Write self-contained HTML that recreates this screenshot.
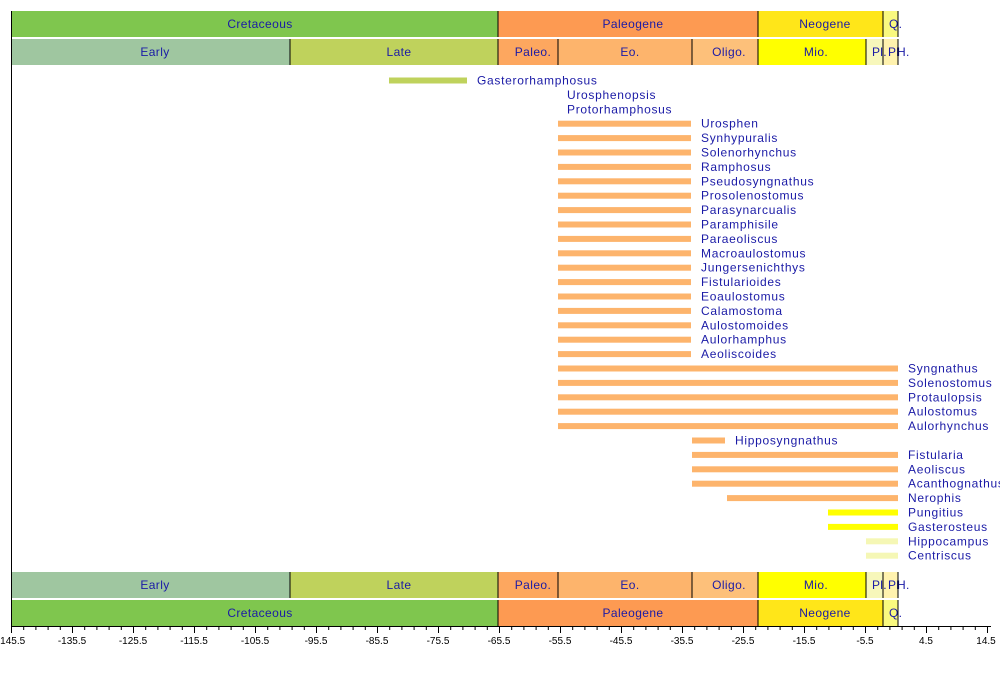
<!DOCTYPE html>
<html><head><meta charset="utf-8"><style>
html,body{margin:0;padding:0;background:#fff;width:1000px;height:675px;overflow:hidden}
svg text{font-family:"Liberation Sans",sans-serif}
.b{font-size:12px;fill:#1a1aa6;text-anchor:middle;letter-spacing:0.4px}
.s{font-size:12px;fill:#1a1aa6;letter-spacing:0.3px}
.l{font-size:12px;fill:#1a1aa6;letter-spacing:0.7px}
.t{font-size:10px;fill:#000;text-anchor:middle}
</style></head><body>
<svg width="1000" height="675" xmlns="http://www.w3.org/2000/svg">
<g>
<rect x="11" y="11" width="487" height="26" fill="#7fc64e"/>
<rect x="498" y="11" width="260" height="26" fill="#fd9a52"/>
<rect x="758" y="11" width="125" height="26" fill="#ffe619"/>
<rect x="883" y="11" width="15" height="26" fill="#f9f97f"/>
<text class="b" x="260" y="28">Cretaceous</text>
<text class="b" x="633" y="28">Paleogene</text>
<text class="b" x="825" y="28">Neogene</text>
<text class="s" x="889" y="28">Q.</text>
<rect x="11" y="39" width="279" height="26" fill="#9fc6a0"/>
<rect x="290" y="39" width="208" height="26" fill="#bfd25c"/>
<rect x="498" y="39" width="60" height="26" fill="#fda75f"/>
<rect x="558" y="39" width="134" height="26" fill="#fdb46c"/>
<rect x="692" y="39" width="66" height="26" fill="#fdc07a"/>
<rect x="758" y="39" width="108" height="26" fill="#ffff00"/>
<rect x="866" y="39" width="17" height="26" fill="#f7f7bb"/>
<rect x="883" y="39" width="15" height="26" fill="#fff2ae"/>
<text class="b" x="155" y="56">Early</text>
<text class="b" x="399" y="56">Late</text>
<text class="b" x="533" y="56">Paleo.</text>
<text class="b" x="630" y="56">Eo.</text>
<text class="b" x="729" y="56">Oligo.</text>
<text class="b" x="816" y="56">Mio.</text>
<text class="s" x="872" y="56">Pl.</text>
<text class="s" x="888" y="56">Pl</text>
<text class="s" x="897" y="56">H.</text>
<g stroke="#000" stroke-width="1">
<line x1="498" y1="11" x2="498" y2="37"/><line x1="758" y1="11" x2="758" y2="37"/><line x1="883" y1="11" x2="883" y2="37"/><line x1="898" y1="11" x2="898" y2="37"/>
<line x1="290" y1="39" x2="290" y2="65"/><line x1="498" y1="39" x2="498" y2="65"/><line x1="558" y1="39" x2="558" y2="65"/><line x1="692" y1="39" x2="692" y2="65"/><line x1="758" y1="39" x2="758" y2="65"/><line x1="866" y1="39" x2="866" y2="65"/><line x1="883" y1="39" x2="883" y2="65"/><line x1="898" y1="39" x2="898" y2="65"/>
</g>
</g>
<g>
<rect x="11" y="572" width="279" height="26" fill="#9fc6a0"/>
<rect x="290" y="572" width="208" height="26" fill="#bfd25c"/>
<rect x="498" y="572" width="60" height="26" fill="#fda75f"/>
<rect x="558" y="572" width="134" height="26" fill="#fdb46c"/>
<rect x="692" y="572" width="66" height="26" fill="#fdc07a"/>
<rect x="758" y="572" width="108" height="26" fill="#ffff00"/>
<rect x="866" y="572" width="17" height="26" fill="#f7f7bb"/>
<rect x="883" y="572" width="15" height="26" fill="#fff2ae"/>
<text class="b" x="155" y="589">Early</text>
<text class="b" x="399" y="589">Late</text>
<text class="b" x="533" y="589">Paleo.</text>
<text class="b" x="630" y="589">Eo.</text>
<text class="b" x="729" y="589">Oligo.</text>
<text class="b" x="816" y="589">Mio.</text>
<text class="s" x="872" y="589">Pl.</text>
<text class="s" x="888" y="589">Pl</text>
<text class="s" x="897" y="589">H.</text>
<rect x="11" y="600" width="487" height="26" fill="#7fc64e"/>
<rect x="498" y="600" width="260" height="26" fill="#fd9a52"/>
<rect x="758" y="600" width="125" height="26" fill="#ffe619"/>
<rect x="883" y="600" width="15" height="26" fill="#f9f97f"/>
<text class="b" x="260" y="617">Cretaceous</text>
<text class="b" x="633" y="617">Paleogene</text>
<text class="b" x="825" y="617">Neogene</text>
<text class="s" x="889" y="617">Q.</text>
<g stroke="#000" stroke-width="1">
<line x1="290" y1="572" x2="290" y2="598"/><line x1="498" y1="572" x2="498" y2="598"/><line x1="558" y1="572" x2="558" y2="598"/><line x1="692" y1="572" x2="692" y2="598"/><line x1="758" y1="572" x2="758" y2="598"/><line x1="866" y1="572" x2="866" y2="598"/><line x1="883" y1="572" x2="883" y2="598"/><line x1="898" y1="572" x2="898" y2="598"/>
<line x1="498" y1="600" x2="498" y2="626"/><line x1="758" y1="600" x2="758" y2="626"/><line x1="883" y1="600" x2="883" y2="626"/><line x1="898" y1="600" x2="898" y2="626"/>
</g>
</g>
<line x1="11.5" y1="11" x2="11.5" y2="627" stroke="#000"/>
<line x1="11" y1="626.5" x2="991" y2="626.5" stroke="#000"/>
<g stroke="#000" stroke-width="1">
<line x1="11.5" y1="626" x2="11.5" y2="633"/><line x1="72.5" y1="626" x2="72.5" y2="633"/><line x1="133.5" y1="626" x2="133.5" y2="633"/><line x1="194.5" y1="626" x2="194.5" y2="633"/><line x1="255.5" y1="626" x2="255.5" y2="633"/><line x1="316.5" y1="626" x2="316.5" y2="633"/><line x1="377.5" y1="626" x2="377.5" y2="633"/><line x1="438.5" y1="626" x2="438.5" y2="633"/><line x1="499.5" y1="626" x2="499.5" y2="633"/><line x1="560.5" y1="626" x2="560.5" y2="633"/><line x1="621.5" y1="626" x2="621.5" y2="633"/><line x1="682.5" y1="626" x2="682.5" y2="633"/><line x1="743.5" y1="626" x2="743.5" y2="633"/><line x1="804.5" y1="626" x2="804.5" y2="633"/><line x1="865.5" y1="626" x2="865.5" y2="633"/><line x1="926.5" y1="626" x2="926.5" y2="633"/><line x1="987.5" y1="626" x2="987.5" y2="633"/>
<path d="M23.7 626v4M35.9 626v4M48.1 626v4M60.3 626v4M84.7 626v4M96.9 626v4M109.1 626v4M121.3 626v4M145.7 626v4M157.9 626v4M170.1 626v4M182.3 626v4M206.7 626v4M218.9 626v4M231.1 626v4M243.3 626v4M267.7 626v4M279.9 626v4M292.1 626v4M304.3 626v4M328.7 626v4M340.9 626v4M353.1 626v4M365.3 626v4M389.7 626v4M401.9 626v4M414.1 626v4M426.3 626v4M450.7 626v4M462.9 626v4M475.1 626v4M487.3 626v4M511.7 626v4M523.9 626v4M536.1 626v4M548.3 626v4M572.7 626v4M584.9 626v4M597.1 626v4M609.3 626v4M633.7 626v4M645.9 626v4M658.1 626v4M670.3 626v4M694.7 626v4M706.9 626v4M719.1 626v4M731.3 626v4M755.7 626v4M767.9 626v4M780.1 626v4M792.3 626v4M816.7 626v4M828.9 626v4M841.1 626v4M853.3 626v4M877.7 626v4M889.9 626v4M902.1 626v4M914.3 626v4M938.7 626v4M950.9 626v4M963.1 626v4M975.3 626v4"/>
</g>
<g>
<text class="t" x="11" y="644">-145.5</text><text class="t" x="72" y="644">-135.5</text><text class="t" x="133" y="644">-125.5</text><text class="t" x="194" y="644">-115.5</text><text class="t" x="255" y="644">-105.5</text><text class="t" x="316" y="644">-95.5</text><text class="t" x="377" y="644">-85.5</text><text class="t" x="438" y="644">-75.5</text><text class="t" x="499" y="644">-65.5</text><text class="t" x="560" y="644">-55.5</text><text class="t" x="621" y="644">-45.5</text><text class="t" x="682" y="644">-35.5</text><text class="t" x="743" y="644">-25.5</text><text class="t" x="804" y="644">-15.5</text><text class="t" x="865" y="644">-5.5</text><text class="t" x="926" y="644">4.5</text><text class="t" x="986" y="644">14.5</text>
</g>
<g>
<rect x="389" y="77.5" width="78" height="6" fill="#bfd25c"/>
<text class="l" x="477" y="84.5">Gasterorhamphosus</text>
<text class="l" x="567" y="98.9">Urosphenopsis</text>
<text class="l" x="567" y="113.3">Protorhamphosus</text>
<g fill="#fdb46c">
<rect x="558" y="120.7" width="133" height="6"/><rect x="558" y="135.1" width="133" height="6"/><rect x="558" y="149.5" width="133" height="6"/><rect x="558" y="163.9" width="133" height="6"/><rect x="558" y="178.3" width="133" height="6"/><rect x="558" y="192.7" width="133" height="6"/><rect x="558" y="207.1" width="133" height="6"/><rect x="558" y="221.5" width="133" height="6"/><rect x="558" y="235.9" width="133" height="6"/><rect x="558" y="250.3" width="133" height="6"/><rect x="558" y="264.7" width="133" height="6"/><rect x="558" y="279.1" width="133" height="6"/><rect x="558" y="293.5" width="133" height="6"/><rect x="558" y="307.9" width="133" height="6"/><rect x="558" y="322.3" width="133" height="6"/><rect x="558" y="336.7" width="133" height="6"/><rect x="558" y="351.1" width="133" height="6"/>
<rect x="558" y="365.5" width="340" height="6"/><rect x="558" y="379.9" width="340" height="6"/><rect x="558" y="394.3" width="340" height="6"/><rect x="558" y="408.7" width="340" height="6"/><rect x="558" y="423.1" width="340" height="6"/>
<rect x="692" y="437.5" width="33" height="6"/>
<rect x="692" y="451.9" width="206" height="6"/><rect x="692" y="466.3" width="206" height="6"/><rect x="692" y="480.7" width="206" height="6"/>
<rect x="727" y="495.1" width="171" height="6"/>
</g>
<rect x="828" y="509.5" width="70" height="6" fill="#ffff00"/>
<rect x="828" y="523.9" width="70" height="6" fill="#ffff00"/>
<rect x="866" y="538.3" width="32" height="6" fill="#f5f7b5"/>
<rect x="866" y="552.7" width="32" height="6" fill="#f5f7b5"/>
<text class="l" x="701" y="127.7">Urosphen</text>
<text class="l" x="701" y="142.1">Synhypuralis</text>
<text class="l" x="701" y="156.5">Solenorhynchus</text>
<text class="l" x="701" y="170.9">Ramphosus</text>
<text class="l" x="701" y="185.3">Pseudosyngnathus</text>
<text class="l" x="701" y="199.7">Prosolenostomus</text>
<text class="l" x="701" y="214.1">Parasynarcualis</text>
<text class="l" x="701" y="228.5">Paramphisile</text>
<text class="l" x="701" y="242.9">Paraeoliscus</text>
<text class="l" x="701" y="257.3">Macroaulostomus</text>
<text class="l" x="701" y="271.7">Jungersenichthys</text>
<text class="l" x="701" y="286.1">Fistularioides</text>
<text class="l" x="701" y="300.5">Eoaulostomus</text>
<text class="l" x="701" y="314.9">Calamostoma</text>
<text class="l" x="701" y="329.3">Aulostomoides</text>
<text class="l" x="701" y="343.7">Aulorhamphus</text>
<text class="l" x="701" y="358.1">Aeoliscoides</text>
<text class="l" x="908" y="372.5">Syngnathus</text>
<text class="l" x="908" y="386.9">Solenostomus</text>
<text class="l" x="908" y="401.3">Protaulopsis</text>
<text class="l" x="908" y="415.7">Aulostomus</text>
<text class="l" x="908" y="430.1">Aulorhynchus</text>
<text class="l" x="735" y="444.5">Hipposyngnathus</text>
<text class="l" x="908" y="458.9">Fistularia</text>
<text class="l" x="908" y="473.3">Aeoliscus</text>
<text class="l" x="908" y="487.7">Acanthognathus</text>
<text class="l" x="908" y="502.1">Nerophis</text>
<text class="l" x="908" y="516.5">Pungitius</text>
<text class="l" x="908" y="530.9">Gasterosteus</text>
<text class="l" x="908" y="545.3">Hippocampus</text>
<text class="l" x="908" y="559.7">Centriscus</text>
</g>
</svg>
</body></html>
